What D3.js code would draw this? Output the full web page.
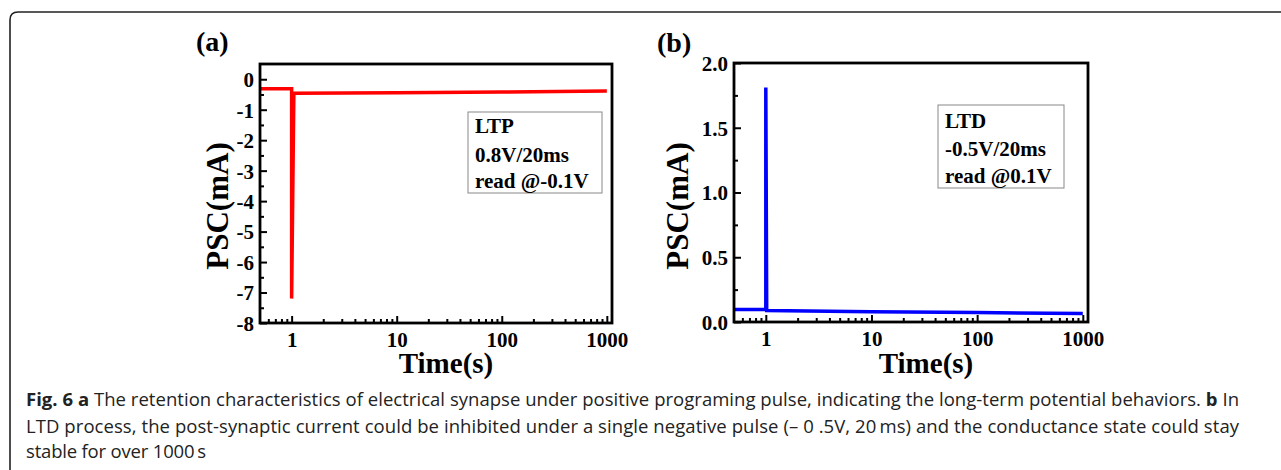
<!DOCTYPE html>
<meta charset="utf-8">
<title>Fig. 6</title>
<script src="https://d3js.org/d3.v7.min.js"></script>
<style>
  body { margin: 0; background: #fff; }
  .ax path, .ax line { stroke: #000; }
  .ax text { font-family: "Liberation Serif", "Times New Roman", serif; font-weight: bold; font-size: 21px; fill: #000; }
  .serif { font-family: "Liberation Serif", "Times New Roman", serif; font-weight: bold; fill: #000; }
  .cap { font-family: "Open Sans", sans-serif; font-size: 18.5px; fill: #222; }
</style>
<body>
<script>
// panel a: LTP retention
var timeA = [0.5, 0.97, 1.0, 1.0, 1.05, 10, 100, 1000];
var pscA = [-0.31, -0.31, -0.31, -7.2, -0.46, -0.44, -0.42, -0.39];
var yTicksA = [-8, -7, -6, -5, -4, -3, -2, -1, 0];
var legendA = ["LTP", "0.8V/20ms", "read @-0.1V"];

// panel b: LTD retention
var timeB = [0.5, 0.98, 1.0, 1.0, 1.02, 10, 100, 1000];
var pscB = [0.097, 0.097, 0.097, 1.81, 0.088, 0.08, 0.073, 0.065];
var yTicksB = [0, 0.5, 1.0, 1.5, 2.0];
var legendB = ["LTD", "-0.5V/20ms", "read @0.1V"];

var xTicks = [1, 10, 100, 1000];
var xMinor = [0.6, 0.7, 0.8, 0.9, 2, 3, 4, 5, 6, 7, 8, 9, 20, 30, 40, 50, 60, 70, 80, 90, 200, 300, 400, 500, 600, 700, 800, 900];

var svg = d3.select("body").append("svg")
    .attr("width", 1281)
    .attr("height", 470);

// figure frame
svg.append("path")
    .attr("d", "M10,470 L10,20 Q10,12 18,12 L1281,12")
    .attr("fill", "none")
    .attr("stroke", "#222")
    .attr("stroke-width", 1.6);

function panel(o) {
    var x = d3.scaleLog().domain([0.5, 1120]).range([o.left, o.right]);
    var y = d3.scaleLinear().domain(o.yDomain).range([o.bottom, o.top]);

    var xAxis = d3.axisBottom(x).tickValues(xTicks).tickFormat(d3.format("d"))
        .tickSizeInner(-7).tickSizeOuter(0).tickPadding(9);
    var xMinorAxis = d3.axisBottom(x).tickValues(xMinor).tickFormat("")
        .tickSizeInner(-4).tickSizeOuter(0);
    var yAxis = d3.axisLeft(y).tickValues(o.yTicks).tickFormat(o.fmt)
        .tickSizeInner(-7).tickSizeOuter(0).tickPadding(6);
    var yMinorAxis = d3.axisLeft(y).tickValues(o.yMinor).tickFormat("")
        .tickSizeInner(-4).tickSizeOuter(0);

    var gx = svg.append("g").attr("class", "ax").attr("transform", "translate(0," + o.bottom + ")");
    gx.call(xAxis);
    gx.append("g").call(xMinorAxis);
    gx.selectAll("line").attr("stroke-width", 2);
    gx.selectAll("path").attr("stroke-width", 0);

    var gy = svg.append("g").attr("class", "ax").attr("transform", "translate(" + o.left + ",0)");
    gy.call(yAxis);
    gy.append("g").call(yMinorAxis);
    gy.selectAll("line").attr("stroke-width", 2);
    gy.selectAll("path").attr("stroke-width", 0);
    gy.selectAll("text").attr("dy", "0.35em");

    var line = d3.line()
        .x(function (d) { return x(d[0]); })
        .y(function (d) { return y(d[1]); });

    svg.append("path")
        .attr("d", line(d3.zip(o.time, o.psc)))
        .attr("fill", "none")
        .attr("stroke", o.color)
        .attr("stroke-width", 3.5);

    // box
    svg.append("rect")
        .attr("x", o.left).attr("y", o.top)
        .attr("width", o.right - o.left).attr("height", o.bottom - o.top)
        .attr("fill", "none").attr("stroke", "#000").attr("stroke-width", 2.8);

    // legend
    svg.append("rect")
        .attr("x", o.leg[0]).attr("y", o.leg[1])
        .attr("width", o.leg[2]).attr("height", o.leg[3])
        .attr("fill", "#fff").attr("stroke", "#888").attr("stroke-width", 1);
    svg.selectAll(null).data(o.legend).enter().append("text")
        .attr("class", "serif")
        .attr("x", o.leg[0] + 7)
        .attr("y", function (d, i) { return o.legY[i]; })
        .style("font-size", "21px")
        .text(function (d) { return d; });

    // labels
    svg.append("text").attr("class", "serif")
        .attr("transform", "translate(" + o.yLabelX + ",206) rotate(-90)")
        .attr("text-anchor", "middle")
        .style("font-size", "31px")
        .text("PSC(mA)");
    svg.append("text").attr("class", "serif")
        .attr("x", o.xLabelX).attr("y", 373)
        .attr("text-anchor", "middle")
        .style("font-size", "29px")
        .text("Time(s)");
    svg.append("text").attr("class", "serif")
        .attr("x", o.tagX).attr("y", o.tagY)
        .style("font-size", "28px")
        .text(o.tag);
}

panel({
    left: 260, right: 612, top: 64, bottom: 323,
    yDomain: [-8, 0.5], yTicks: yTicksA,
    yMinor: [-7.5, -6.5, -5.5, -4.5, -3.5, -2.5, -1.5, -0.5],
    fmt: function (d) { return String(d); },
    time: timeA, psc: pscA, color: "#ff0000",
    legend: legendA, leg: [468, 112, 134, 81], legY: [133, 162, 188],
    yLabelX: 228, xLabelX: 446, tag: "(a)", tagX: 196, tagY: 51
});

panel({
    left: 734, right: 1088, top: 63, bottom: 322,
    yDomain: [0, 2], yTicks: yTicksB,
    yMinor: [0.25, 0.75, 1.25, 1.75],
    fmt: d3.format(".1f"),
    time: timeB, psc: pscB, color: "#0000ff",
    legend: legendB, leg: [938, 105, 126, 83], legY: [128, 156, 183],
    yLabelX: 688, xLabelX: 926, tag: "(b)", tagX: 657, tagY: 52
});

// caption
var cap1 = svg.append("text").attr("class", "cap").attr("x", 26).attr("y", 406)
    .attr("textLength", 1213).attr("lengthAdjust", "spacing");
cap1.append("tspan").style("font-weight", "bold").text("Fig. 6 a");
cap1.append("tspan").text(" The retention characteristics of electrical synapse under positive programing pulse, indicating the long-term potential behaviors. ");
cap1.append("tspan").style("font-weight", "bold").text("b");
cap1.append("tspan").text(" In");

svg.append("text").attr("class", "cap").attr("x", 26).attr("y", 432.5)
    .attr("textLength", 1213).attr("lengthAdjust", "spacing")
    .text("LTD process, the post-synaptic current could be inhibited under a single negative pulse (\u2013 0 .5V, 20\u2009ms) and the conductance state could stay");
svg.append("text").attr("class", "cap").attr("x", 26).attr("y", 458)
    .attr("textLength", 180).attr("lengthAdjust", "spacing")
    .text("stable for over 1000\u2009s");
</script>
</body>
